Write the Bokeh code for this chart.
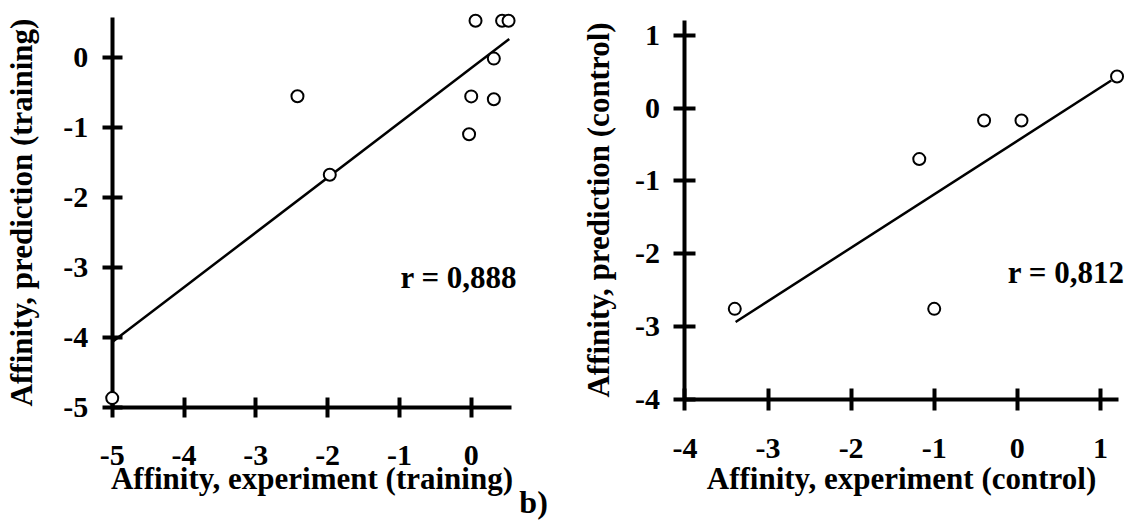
from bokeh.plotting import figure
from bokeh.layouts import row
from bokeh.models import Range1d, FixedTicker, Label, CustomJSTickFormatter
from bokeh.embed import file_html
from bokeh.resources import INLINE

# ---- data: training panel ----
train_exp = [0.06, 0.43, 0.52, 0.315, -2.42, 0.0, 0.315, -0.03, -1.97, -5.0]
train_pred = [0.52, 0.52, 0.52, -0.02, -0.557, -0.56, -0.60, -1.10, -1.68, -4.87]
train_fit_x = [-5.0, 0.53]
train_fit_y = [-4.07, 0.26]
train_ticks = [-5, -4, -3, -2, -1, 0]
train_tick_labels = ["-5", "-4", "-3", "-2", "-1", "0"]
train_r = "r = 0,888"

# ---- data: control panel ----
control_exp = [-3.40, -1.18, -0.40, 0.05, -1.0, 1.20]
control_pred = [-2.76, -0.70, -0.17, -0.17, -2.76, 0.436]
control_fit_x = [-3.39, 1.13]
control_fit_y = [-2.94, 0.38]
control_ticks = [-4, -3, -2, -1, 0, 1]
control_tick_labels = ["-4", "-3", "-2", "-1", "0", "1"]
control_r = "r = 0,812"

FONT = "Liberation Serif"


def make_panel(width, height, xr, yr, xs, ys, fx, fy, ticks, tick_labels,
               origin, xbound, ybound, xlabel, ylabel, tick_len,
               x_label_standoff, y_label_standoff, x_axis_standoff, y_axis_standoff,
               r_text, r_x, r_y):
    p = figure(width=width, height=height,
               x_range=Range1d(*xr), y_range=Range1d(*yr),
               output_backend="svg", toolbar_location=None,
               min_border_left=0, min_border_right=0,
               min_border_top=0, min_border_bottom=0)
    p.grid.visible = False
    p.outline_line_color = None
    p.background_fill_color = "white"
    p.border_fill_color = "white"

    fmt = CustomJSTickFormatter(
        args=dict(tick_values=list(ticks), tick_texts=list(tick_labels)),
        code="const i = tick_values.indexOf(Math.round(tick)); return i >= 0 ? tick_texts[i] : '';")
    for ax, bnd, lab, lso, aso in ((p.xaxis[0], xbound, xlabel, x_label_standoff, x_axis_standoff),
                                   (p.yaxis[0], ybound, ylabel, y_label_standoff, y_axis_standoff)):
        ax.fixed_location = origin
        ax.bounds = bnd
        ax.ticker = FixedTicker(ticks=ticks, minor_ticks=[])
        ax.formatter = fmt
        ax.axis_line_width = 4
        ax.axis_line_color = "black"
        ax.major_tick_line_width = 4
        ax.major_tick_line_color = "black"
        ax.major_tick_in = tick_len
        ax.major_tick_out = tick_len
        ax.minor_tick_line_color = None
        ax.major_label_text_font = FONT
        ax.major_label_text_font_style = "bold"
        ax.major_label_text_font_size = "30px"
        ax.major_label_text_color = "black"
        ax.major_label_standoff = lso
        ax.axis_label = lab
        ax.axis_label_text_font = FONT
        ax.axis_label_text_font_style = "bold"
        ax.axis_label_text_font_size = "31px"
        ax.axis_label_text_color = "black"
        ax.axis_label_standoff = aso
    p.yaxis[0].major_label_orientation = "horizontal"

    p.line(fx, fy, line_width=2.5, line_color="black")
    sc = p.scatter(xs, ys, marker="circle", size=12, fill_color="white",
                   line_color="black", line_width=2)
    sc.level = "overlay"

    p.add_layout(Label(x=r_x, y=r_y, text=r_text, text_align="right",
                       text_baseline="alphabetic", text_font=FONT,
                       text_font_style="bold", text_font_size="31px",
                       text_color="black"))
    return p


left = make_panel(565, 525, (-6.556, 1.313), (-6.69, 0.81),
                  train_exp, train_pred, train_fit_x, train_fit_y,
                  train_ticks, train_tick_labels, -5, (-5, 0.555), (-5, 0.57),
                  "Affinity, experiment (training)", "Affinity, prediction (training)",
                  10, 29, 14, -8, 22, train_r, 0.64, -3.153)

left.add_layout(Label(x=0.67, y=-6.36, text="b)", text_align="left",
                      text_baseline="alphabetic", text_font=FONT,
                      text_font_style="bold", text_font_size="32px",
                      text_color="black"))

right = make_panel(569, 525, (-5.437, 1.41), (-5.74, 1.4814),
                   control_exp, control_pred, control_fit_x, control_fit_y,
                   control_ticks, control_tick_labels, -4, (-4, 1.22), (-4, 1.206),
                   "Affinity, experiment (control)", "Affinity, prediction (control)",
                   11, 29, 14, -1, 16, control_r, 1.29, -2.26)

layout = row(left, right)
open("out.html", "w").write(file_html(layout, INLINE))
